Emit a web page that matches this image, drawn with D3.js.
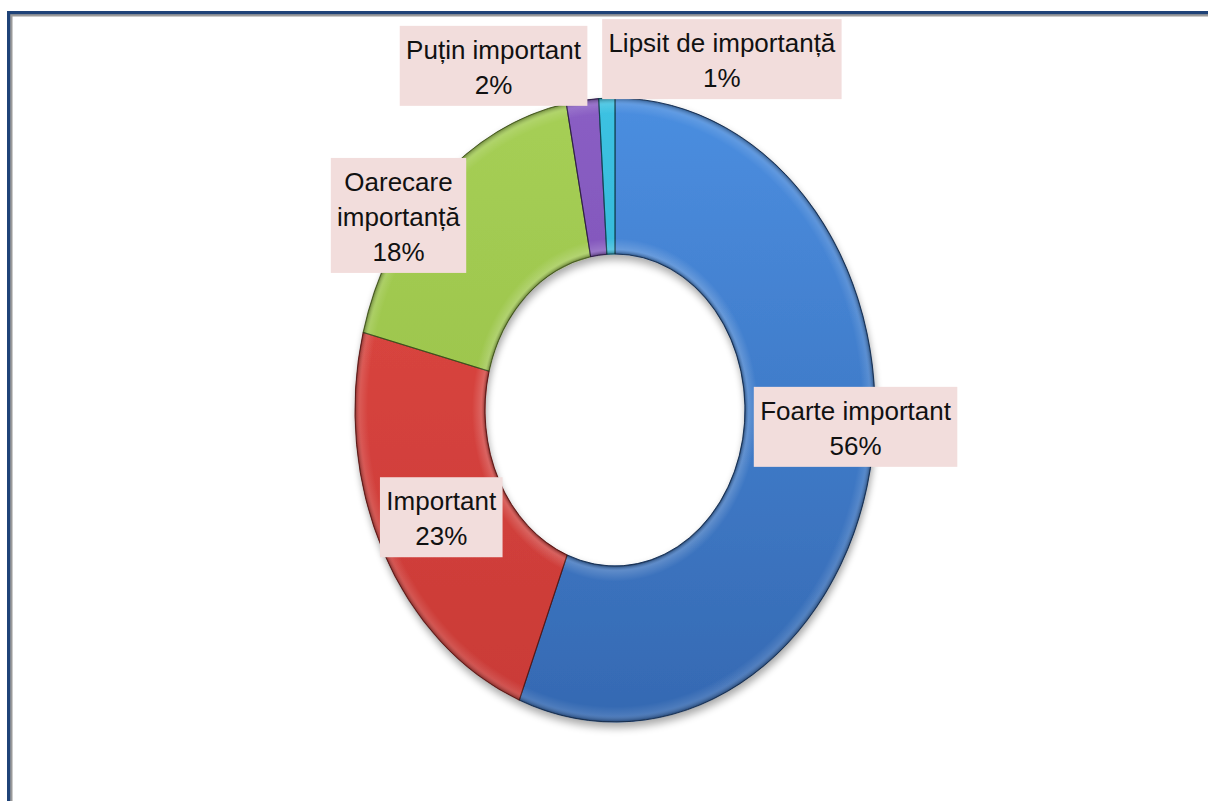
<!DOCTYPE html>
<html>
<head>
<meta charset="utf-8">
<script src="https://cdn.jsdelivr.net/npm/d3@7"></script>
<style>
  html, body { margin: 0; padding: 0; background: #fff; }
  svg { display: block; }
</style>
</head>
<body>
<svg id="chart" width="1208" height="801"></svg>
<script>
// ---- data ----
const categories = ["Foarte important", "Important", "Oarecare importanță", "Puțin important", "Lipsit de importanță"];
const labelLines = [["Foarte important"], ["Important"], ["Oarecare", "importanță"], ["Puțin important"], ["Lipsit de importanță"]];
const values = [56, 23, 18, 2, 1];

// ---- styling / layout ----
const colorsTop = ["#4b8ee0", "#e04a44", "#a6cf55", "#8a5ec4", "#3cc2e2"];
const colorsBottom = ["#3569b2", "#c93a36", "#93bb45", "#7048a8", "#2aa5c6"];
const labelOffsets = [[49, -27], [0, 1], [-83, -24], [-97, -112], [113, -117]];

const W = 1208, H = 801;
const cx = 615, cy = 410, R = 260, yScale = 312 / 260, innerFrac = 0.5;

const svg = d3.select("#chart");
const defs = svg.append("defs");

// frame
svg.append("rect").attr("x", 0).attr("y", 0).attr("width", W).attr("height", H).attr("fill", "#fff");
svg.append("rect").attr("x", 10).attr("y", 14).attr("width", W - 10).attr("height", 2.5).attr("fill", "#9a9a9a");
svg.append("rect").attr("x", 10).attr("y", 14).attr("width", 2.5).attr("height", H - 14).attr("fill", "#9a9a9a");
svg.append("rect").attr("x", 7).attr("y", 11).attr("width", W - 7).attr("height", 3.2).attr("fill", "#1f4378");
svg.append("rect").attr("x", 7).attr("y", 11).attr("width", 3.2).attr("height", H - 11).attr("fill", "#1f4378");

// shadow filter
const filt = defs.append("filter").attr("id", "shadow").attr("x", "-20%").attr("y", "-20%").attr("width", "140%").attr("height", "140%");
filt.append("feGaussianBlur").attr("in", "SourceAlpha").attr("stdDeviation", 3.5).attr("result", "b");
filt.append("feOffset").attr("in", "b").attr("dx", 1).attr("dy", 4).attr("result", "o");
filt.append("feComponentTransfer").attr("in", "o").attr("result", "o2")
  .append("feFuncA").attr("type", "linear").attr("slope", 0.35);
const fm = filt.append("feMerge");
fm.append("feMergeNode").attr("in", "o2");
fm.append("feMergeNode").attr("in", "SourceGraphic");

// gradients per slice
values.forEach((v, i) => {
  const g = defs.append("linearGradient").attr("id", "grad" + i)
    .attr("gradientUnits", "userSpaceOnUse")
    .attr("x1", 0).attr("y1", -R).attr("x2", 0).attr("y2", R);
  g.append("stop").attr("offset", "0%").attr("stop-color", colorsTop[i]);
  g.append("stop").attr("offset", "100%").attr("stop-color", colorsBottom[i]);
});
// bevel overlay
const bev = defs.append("radialGradient").attr("id", "bevel")
  .attr("gradientUnits", "userSpaceOnUse").attr("cx", 0).attr("cy", 0).attr("r", R);
[[0.5, "#000", 0.35], [0.515, "#fff", 0.18], [0.55, "#fff", 0.0], [0.95, "#fff", 0.0], [0.98, "#fff", 0.12], [1.0, "#000", 0.35]]
  .forEach(([o, c, a]) => bev.append("stop").attr("offset", o).attr("stop-color", c).attr("stop-opacity", a));

const pie = d3.pie().sort(null).value(d => d)(values);
const arc = d3.arc().innerRadius(R * innerFrac).outerRadius(R);
const midArc = d3.arc().innerRadius(R * 0.75).outerRadius(R * 0.75);

const gPie = svg.append("g").attr("transform", `translate(${cx},${cy}) scale(1,${yScale})`);
const gShadow = gPie.append("g").attr("filter", "url(#shadow)");
gShadow.selectAll("path.slice").data(pie).join("path")
  .attr("class", "slice")
  .attr("d", arc)
  .attr("fill", (d, i) => `url(#grad${i})`)
  .attr("stroke", (d, i) => d3.color(colorsBottom[i]).darker(0.8))
  .attr("stroke-width", 1)
  .attr("vector-effect", "non-scaling-stroke");
gPie.selectAll("path.bevel").data(pie).join("path")
  .attr("class", "bevel")
  .attr("d", arc)
  .attr("fill", "url(#bevel)");
// radial edges darker lines
gPie.selectAll("path.edge").data(pie).join("path")
  .attr("class", "edge")
  .attr("d", arc)
  .attr("fill", "none")
  .attr("stroke", "rgba(0,0,0,0.25)")
  .attr("stroke-width", 1.2)
  .attr("vector-effect", "non-scaling-stroke");

// labels
const fontSize = 26, lineH = 35;
const gLab = svg.append("g");
pie.forEach((d, i) => {
  const c = midArc.centroid(d);
  const x = cx + c[0] + labelOffsets[i][0];
  const y = cy + c[1] * yScale + labelOffsets[i][1];
  const lines = labelLines[i].concat([values[i] + "%"]);
  const boxH = lines.length * lineH + 10;
  const top = y - boxH / 2;
  const g = gLab.append("g");
  const rect = g.append("rect").attr("fill", "#f2dddc");
  const t = g.append("text")
    .attr("font-family", "'Liberation Sans', Arial, sans-serif")
    .attr("font-size", fontSize)
    .attr("fill", "#111")
    .attr("text-anchor", "middle");
  lines.forEach((ln, k) => {
    t.append("tspan").attr("x", x).attr("y", top + 33 + k * lineH).text(ln);
  });
  const bb = t.node().getBBox();
  const bw = bb.width + 12;
  rect.attr("x", x - bw / 2).attr("y", top).attr("width", bw).attr("height", boxH);
});
</script>
</body>
</html>
